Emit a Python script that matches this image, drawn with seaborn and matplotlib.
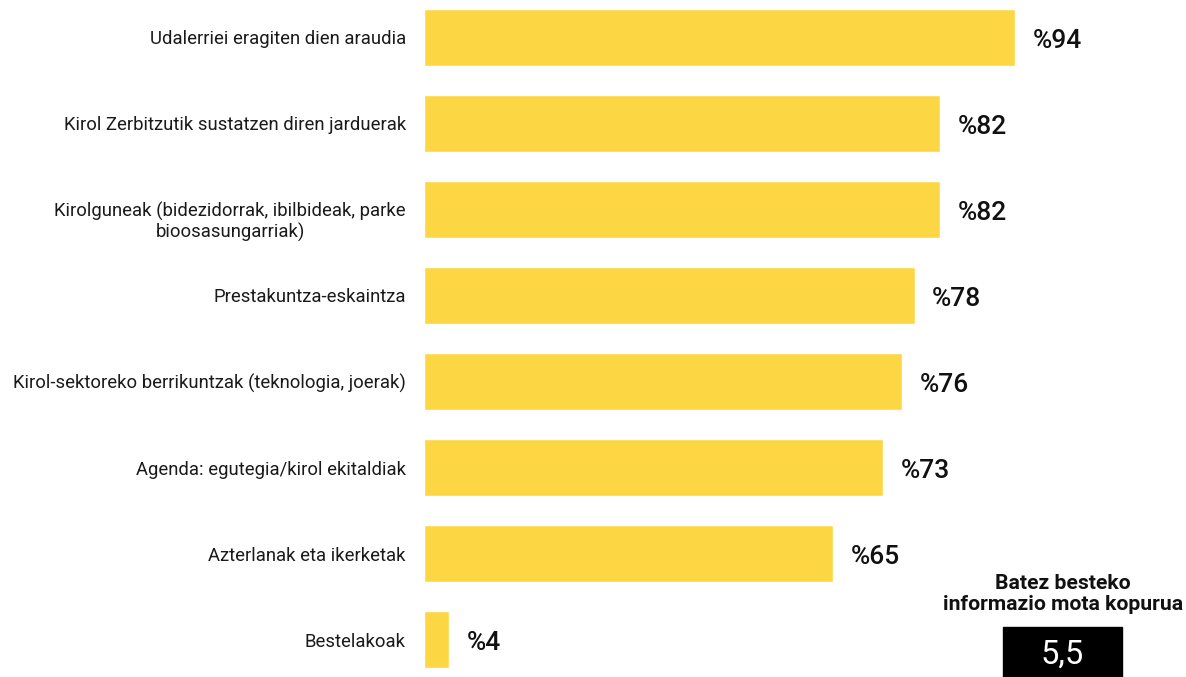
import matplotlib
matplotlib.use('Agg')
from matplotlib import pyplot as plt
from matplotlib import transforms as mtrans
import seaborn as sns
import pandas as pd

# datuak
kategoriak = [
    'Udalerriei eragiten dien araudia',
    'Kirol Zerbitzutik sustatzen diren jarduerak',
    'Kirolguneak (bidezidorrak, ibilbideak, parke\nbioosasungarriak)',
    'Prestakuntza-eskaintza',
    'Kirol-sektoreko berrikuntzak (teknologia, joerak)',
    'Agenda: egutegia/kirol ekitaldiak',
    'Azterlanak eta ikerketak',
    'Bestelakoak',
]
balioak = [94, 82, 82, 78, 76, 73, 65, 4]
batez_bestekoa = '5,5'

sns.set_theme(style='white')
plt.rcParams['font.family'] = ['Roboto', 'DejaVu Sans']

df = pd.DataFrame({'kategoria': kategoriak, 'balioa': balioak})

fig = plt.figure(figsize=(11.86, 6.77), dpi=100)
ax = fig.add_axes([424 / 1186, 0, 629 / 1186, 1])

sns.barplot(data=df, x='balioa', y='kategoria', orient='h', color='#FDD643',
            saturation=1, width=0.67, ax=ax)

ax.set_xlim(0, 100)
ax.set_ylim(7.436, -0.436)
ax.set_xlabel('')
ax.set_ylabel('')
ax.set_xticks([])
for s in ax.spines.values():
    s.set_visible(False)
ax.tick_params(axis='y', length=0, pad=13, labelsize=13.3, labelcolor='#1a1a1a')
for lbl in ax.get_yticklabels():
    lbl.set_multialignment('center')
    lbl.set_linespacing(1.15)
    if '\n' in lbl.get_text():
        # bi lerroko etiketa apur bat beherago
        lbl.set_transform(lbl.get_transform() + mtrans.ScaledTranslation(0, -0.09, fig.dpi_scale_trans))

# balio etiketak
for i, v in enumerate(balioak):
    ax.text(v + 2.8, i + 0.04, f'%{v}', va='center', ha='left',
            fontsize=19, fontweight='medium', color='#111111')

# batez bestekoa
fig.text(1063 / 1186, 1 - 594 / 677, 'Batez besteko\ninformazio mota kopurua',
         ha='center', va='center', fontsize=15.2, fontweight='bold',
         color='#111111', linespacing=1.1)
fig.patches.append(plt.Rectangle((1003 / 1186, 0), 119 / 1186, 50 / 677,
                                 transform=fig.transFigure, color='black'))
fig.text(1062.5 / 1186, 1 - 655 / 677, batez_bestekoa, ha='center', va='center',
         fontsize=23.5, color='white')

fig.savefig('out.png', dpi=100)
